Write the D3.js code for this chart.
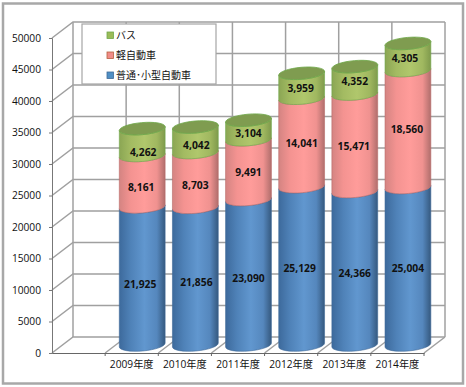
<!DOCTYPE html>
<html>
<head>
<meta charset="utf-8">
<script src="https://cdn.jsdelivr.net/npm/d3@7"></script>
<style>
html, body { margin: 0; padding: 0; background: #fff; }
svg { display: block; }
text { font-family: "Open Sans", "Noto Sans CJK JP", sans-serif; fill: #111; }
</style>
</head>
<body>
<svg id="chart" width="466" height="387"></svg>
<script>
// first slot of the axis is empty in the original
var categories = ["", "2009年度", "2010年度", "2011年度", "2012年度", "2013年度", "2014年度"];
var years = categories.slice(1);
var regular = [21925, 21856, 23090, 25129, 24366, 25004];
var kei = [8161, 8703, 9491, 14041, 15471, 18560];
var bus = [4262, 4042, 3104, 3959, 4352, 4305];
var seriesNames = ["普通･小型自動車", "軽自動車", "バス"];
var yTicks = [0, 5000, 10000, 15000, 20000, 25000, 30000, 35000, 40000, 45000, 50000];

var DEPTH_X = 21, DEPTH_Y = -16;
var RX = 23, RY = 6, TILT = 5;
var cos = Math.cos(TILT * Math.PI / 180), sin = Math.sin(TILT * Math.PI / 180);

var svg = d3.select("#chart");
var x = d3.scaleBand().domain(categories).range([52, 424]);
var y = d3.scaleLinear().domain([0, 50000]).range([353, 38]);

var styles = [
  { id: "blue", stops: ["#3d6a9c", "#4f82b8", "#6197cf", "#5587bd", "#35597f"], line: "#3f6a98" },
  { id: "red", stops: ["#d48482", "#f49391", "#ff9c9a", "#f09290", "#b06e6c"], line: "#b96a68" },
  { id: "green", stops: ["#8ba654", "#a3bb62", "#b0c76c", "#a0b860", "#7f9a4c"], line: "#6fa84a" }
];
var stopOffsets = ["0%", "25%", "55%", "82%", "100%"];

var defs = svg.append("defs");
styles.forEach(function(s){
  var g = defs.append("linearGradient").attr("id", s.id);
  s.stops.forEach(function(c, i){
    g.append("stop").attr("offset", stopOffsets[i]).attr("stop-color", c);
  });
});

// outer frame
svg.append("rect").attr("x", 3).attr("y", 3.5).attr("width", 460).attr("height", 380)
  .attr("fill", "#fff").attr("stroke", "#a8a8a8").attr("stroke-width", 2.5);

// walls
var grid = svg.append("g").attr("stroke", "#a0a0a0").attr("stroke-width", 1.5).attr("fill", "none");
yTicks.forEach(function(t){
  grid.append("path").attr("d", d3.line()([
    [x.range()[0], y(t)],
    [x.range()[0] + DEPTH_X, y(t) + DEPTH_Y],
    [x.range()[1] + DEPTH_X, y(t) + DEPTH_Y]
  ]));
});
categories.forEach(function(c){
  var bx = x(c) + x.bandwidth();
  grid.append("line").attr("x1", bx).attr("y1", y(0))
    .attr("x2", bx + DEPTH_X).attr("y2", y(0) + DEPTH_Y);
  grid.append("line").attr("x1", bx + DEPTH_X).attr("y1", y(0) + DEPTH_Y)
    .attr("x2", bx + DEPTH_X).attr("y2", y(50000) + DEPTH_Y);
});
grid.append("line").attr("x1", x.range()[0] + DEPTH_X).attr("y1", y(0) + DEPTH_Y)
  .attr("x2", x.range()[0] + DEPTH_X).attr("y2", y(50000) + DEPTH_Y);

// axes
var yAxis = svg.append("g").attr("transform", "translate(52,0)")
  .call(d3.axisLeft(y).tickValues(yTicks).tickFormat(d3.format("d")).tickSize(3).tickPadding(8));
yAxis.selectAll("text").attr("font-size", 10.2);
yAxis.selectAll("line, path").attr("stroke", "#777");

var xAxis = svg.append("g").attr("transform", "translate(0,353)")
  .call(d3.axisBottom(x).tickSize(0).tickPadding(8));
xAxis.select("path").attr("stroke", "#666").attr("stroke-width", 1.2);
xAxis.selectAll("text").attr("font-size", 10.2);
categories.forEach(function(c){
  svg.append("line").attr("x1", x(c) + x.bandwidth()).attr("x2", x(c) + x.bandwidth())
    .attr("y1", 353).attr("y2", 356).attr("stroke", "#666");
});

// cylinders
function body(cx, yBottom, yTop){
  var dx = RX * cos, dy = RX * sin;
  return "M" + (cx - dx) + "," + (yTop + dy)
    + "L" + (cx - dx) + "," + (yBottom + dy)
    + "A" + RX + "," + RY + "," + (-TILT) + ",0,0," + (cx + dx) + "," + (yBottom - dy)
    + "L" + (cx + dx) + "," + (yTop - dy)
    + "A" + RX + "," + RY + "," + (-TILT) + ",0,1," + (cx - dx) + "," + (yTop + dy) + "Z";
}

var stacked = d3.stack().keys([0, 1, 2]).value(function(d, k){ return d[k]; })(
  years.map(function(c, i){ return [regular[i], kei[i], bus[i]]; })
);

// label nudges off the segment middle, by series then year
var nudgeX = [[-2, 1, 0, -2, 0, 0], [-1, 0, 0, 0, -1, -1], [1, 1, 0, -1, 0, -3]];
var nudgeY = [[8, 6, 6, 2, 5, 2], [6, 5, 2, 1, 3, 0], [10, 5, 3, 2, 1, 1]];

years.forEach(function(c, i){
  var cx = x(c) + x.bandwidth() / 2 + DEPTH_X / 2;
  var g = svg.append("g");
  stacked.forEach(function(layer, s){
    var y0 = y(layer[i][0]) + DEPTH_Y / 2;
    var y1 = y(layer[i][1]) + DEPTH_Y / 2;
    g.append("path").attr("d", body(cx, y0, y1))
      .attr("fill", "url(#" + styles[s].id + ")")
      .attr("stroke", styles[s].line).attr("stroke-width", 0.6);
  });
  var topY = y(stacked[2][i][1]) + DEPTH_Y / 2;
  g.append("ellipse").attr("cx", cx).attr("cy", topY).attr("rx", RX).attr("ry", RY)
    .attr("transform", "rotate(" + (-TILT) + "," + cx + "," + topY + ")")
    .attr("fill", "#7f9c50").attr("stroke", "#6fa84a").attr("stroke-width", 0.8);
  stacked.forEach(function(layer, s){
    var mid = (y(layer[i][0]) + y(layer[i][1])) / 2 + DEPTH_Y / 2;
    g.append("text").attr("x", cx + nudgeX[s][i]).attr("y", mid + nudgeY[s][i])
      .attr("text-anchor", "middle").attr("dominant-baseline", "central")
      .attr("font-size", 10.3).attr("font-weight", 700)
      .text(d3.format(",")(layer[i][1] - layer[i][0]));
  });
});

// legend
var legend = svg.append("g");
legend.append("rect").attr("x", 82).attr("y", 24).attr("width", 134).attr("height", 60)
  .attr("fill", "#fff").attr("stroke", "#a6a6a6").attr("stroke-width", 1.2);
var legendY = d3.scalePoint().domain(seriesNames.slice().reverse()).range([35, 75]);
var legendColors = { "バス": ["#9bbb59", "#6fa84a"], "軽自動車": ["#f08c88", "#b5603f"], "普通･小型自動車": ["#4f8fc4", "#3f6a98"] };
seriesNames.forEach(function(n){
  legend.append("rect").attr("x", 107).attr("y", legendY(n) - 3).attr("width", 6.5).attr("height", 6.5)
    .attr("fill", legendColors[n][0]).attr("stroke", legendColors[n][1]).attr("stroke-width", 0.8);
  legend.append("text").attr("x", 116).attr("y", legendY(n)).attr("dominant-baseline", "central")
    .attr("font-size", 10).text(n);
});
</script>
</body>
</html>
